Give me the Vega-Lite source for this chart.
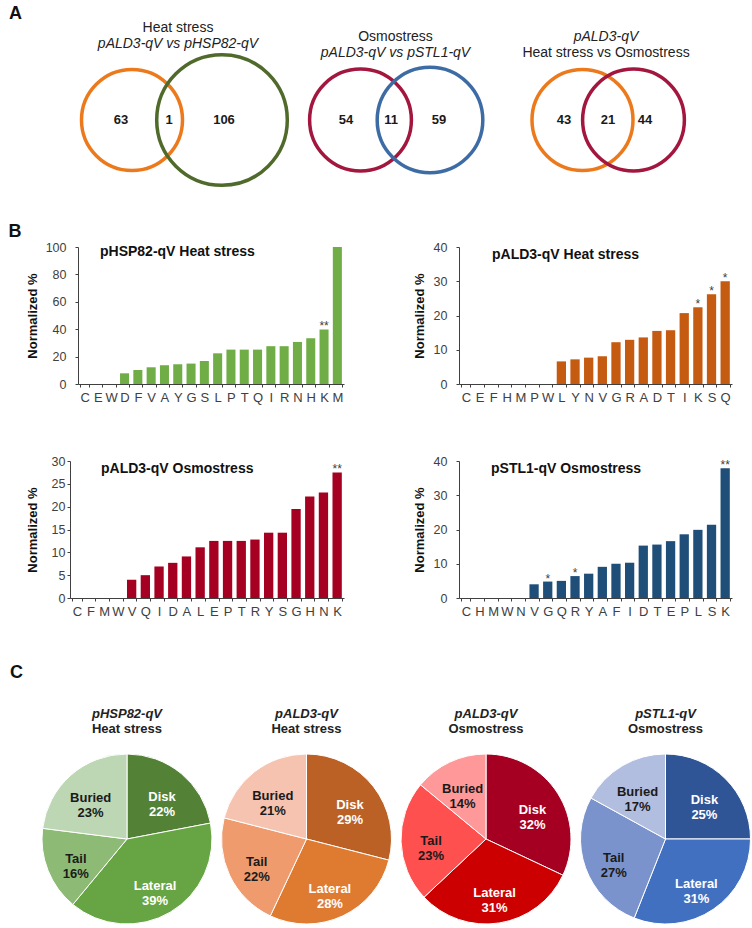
{
  "$schema": "https://vega.github.io/schema/vega-lite/v6.json",
  "padding": {"left": 8, "top": 4, "right": 0, "bottom": 0},
  "config": {
    "view": {"stroke": null},
    "font": "Liberation Sans",
    "axis": {"grid": false, "domainColor": "#404040", "tickColor": "#404040", "labelColor": "#404040", "titleColor": "#111111", "labelFont": "Liberation Sans", "titleFont": "Liberation Sans"}
  },
  "datasets": {
    "venn_sets": [
      {"venn": 1, "set": "pALD3-qV heat", "cx": -46, "total": 64},
      {"venn": 1, "set": "pHSP82-qV heat", "cx": 44, "total": 107},
      {"venn": 2, "set": "pALD3-qV osmo", "cx": -34.5, "total": 65},
      {"venn": 2, "set": "pSTL1-qV osmo", "cx": 35, "total": 70},
      {"venn": 3, "set": "pALD3-qV heat", "cx": -23.5, "total": 64},
      {"venn": 3, "set": "pALD3-qV osmo", "cx": 27.5, "total": 65}
    ],
    "venn_regions": [
      {"venn": 1, "lx": -57, "n": 63},
      {"venn": 1, "lx": -9, "n": 1},
      {"venn": 1, "lx": 46, "n": 106},
      {"venn": 2, "lx": -49, "n": 54},
      {"venn": 2, "lx": -4, "n": 11},
      {"venn": 2, "lx": 44, "n": 59},
      {"venn": 3, "lx": -42, "n": 43},
      {"venn": 3, "lx": 2, "n": 21},
      {"venn": 3, "lx": 39, "n": 44}
    ],
    "bars": [
      {"chart": "c1", "aa": "C", "v": 0, "sig": ""},
      {"chart": "c1", "aa": "E", "v": 0, "sig": ""},
      {"chart": "c1", "aa": "W", "v": 0, "sig": ""},
      {"chart": "c1", "aa": "D", "v": 7.8, "sig": ""},
      {"chart": "c1", "aa": "F", "v": 10.2, "sig": ""},
      {"chart": "c1", "aa": "V", "v": 12.2, "sig": ""},
      {"chart": "c1", "aa": "A", "v": 13.7, "sig": ""},
      {"chart": "c1", "aa": "Y", "v": 14.4, "sig": ""},
      {"chart": "c1", "aa": "G", "v": 14.9, "sig": ""},
      {"chart": "c1", "aa": "S", "v": 16.8, "sig": ""},
      {"chart": "c1", "aa": "L", "v": 22.4, "sig": ""},
      {"chart": "c1", "aa": "P", "v": 25.1, "sig": ""},
      {"chart": "c1", "aa": "T", "v": 25.1, "sig": ""},
      {"chart": "c1", "aa": "Q", "v": 25.1, "sig": ""},
      {"chart": "c1", "aa": "I", "v": 27.6, "sig": ""},
      {"chart": "c1", "aa": "R", "v": 27.6, "sig": ""},
      {"chart": "c1", "aa": "N", "v": 30.7, "sig": ""},
      {"chart": "c1", "aa": "H", "v": 33.4, "sig": ""},
      {"chart": "c1", "aa": "K", "v": 39.8, "sig": "**"},
      {"chart": "c1", "aa": "M", "v": 100, "sig": ""},
      {"chart": "c2", "aa": "C", "v": 0, "sig": ""},
      {"chart": "c2", "aa": "E", "v": 0, "sig": ""},
      {"chart": "c2", "aa": "F", "v": 0, "sig": ""},
      {"chart": "c2", "aa": "H", "v": 0, "sig": ""},
      {"chart": "c2", "aa": "M", "v": 0, "sig": ""},
      {"chart": "c2", "aa": "P", "v": 0, "sig": ""},
      {"chart": "c2", "aa": "W", "v": 0, "sig": ""},
      {"chart": "c2", "aa": "L", "v": 6.6, "sig": ""},
      {"chart": "c2", "aa": "Y", "v": 7.2, "sig": ""},
      {"chart": "c2", "aa": "N", "v": 7.7, "sig": ""},
      {"chart": "c2", "aa": "V", "v": 8.1, "sig": ""},
      {"chart": "c2", "aa": "G", "v": 12.2, "sig": ""},
      {"chart": "c2", "aa": "R", "v": 12.9, "sig": ""},
      {"chart": "c2", "aa": "A", "v": 13.6, "sig": ""},
      {"chart": "c2", "aa": "D", "v": 15.5, "sig": ""},
      {"chart": "c2", "aa": "T", "v": 15.7, "sig": ""},
      {"chart": "c2", "aa": "I", "v": 20.7, "sig": ""},
      {"chart": "c2", "aa": "K", "v": 22.4, "sig": "*"},
      {"chart": "c2", "aa": "S", "v": 26.2, "sig": "*"},
      {"chart": "c2", "aa": "Q", "v": 30, "sig": "*"},
      {"chart": "c3", "aa": "C", "v": 0, "sig": ""},
      {"chart": "c3", "aa": "F", "v": 0, "sig": ""},
      {"chart": "c3", "aa": "M", "v": 0, "sig": ""},
      {"chart": "c3", "aa": "W", "v": 0, "sig": ""},
      {"chart": "c3", "aa": "V", "v": 4.0, "sig": ""},
      {"chart": "c3", "aa": "Q", "v": 5.0, "sig": ""},
      {"chart": "c3", "aa": "I", "v": 6.9, "sig": ""},
      {"chart": "c3", "aa": "D", "v": 7.7, "sig": ""},
      {"chart": "c3", "aa": "A", "v": 9.1, "sig": ""},
      {"chart": "c3", "aa": "L", "v": 11.1, "sig": ""},
      {"chart": "c3", "aa": "E", "v": 12.5, "sig": ""},
      {"chart": "c3", "aa": "P", "v": 12.5, "sig": ""},
      {"chart": "c3", "aa": "T", "v": 12.5, "sig": ""},
      {"chart": "c3", "aa": "R", "v": 12.8, "sig": ""},
      {"chart": "c3", "aa": "Y", "v": 14.3, "sig": ""},
      {"chart": "c3", "aa": "S", "v": 14.3, "sig": ""},
      {"chart": "c3", "aa": "G", "v": 19.5, "sig": ""},
      {"chart": "c3", "aa": "H", "v": 22.2, "sig": ""},
      {"chart": "c3", "aa": "N", "v": 23.1, "sig": ""},
      {"chart": "c3", "aa": "K", "v": 27.5, "sig": "**"},
      {"chart": "c4", "aa": "C", "v": 0, "sig": ""},
      {"chart": "c4", "aa": "H", "v": 0, "sig": ""},
      {"chart": "c4", "aa": "M", "v": 0, "sig": ""},
      {"chart": "c4", "aa": "W", "v": 0, "sig": ""},
      {"chart": "c4", "aa": "N", "v": 0, "sig": ""},
      {"chart": "c4", "aa": "V", "v": 4.0, "sig": ""},
      {"chart": "c4", "aa": "G", "v": 4.8, "sig": "*"},
      {"chart": "c4", "aa": "Q", "v": 5.0, "sig": ""},
      {"chart": "c4", "aa": "R", "v": 6.4, "sig": "*"},
      {"chart": "c4", "aa": "Y", "v": 7.1, "sig": ""},
      {"chart": "c4", "aa": "A", "v": 9.1, "sig": ""},
      {"chart": "c4", "aa": "F", "v": 10.0, "sig": ""},
      {"chart": "c4", "aa": "I", "v": 10.3, "sig": ""},
      {"chart": "c4", "aa": "D", "v": 15.3, "sig": ""},
      {"chart": "c4", "aa": "T", "v": 15.6, "sig": ""},
      {"chart": "c4", "aa": "E", "v": 16.6, "sig": ""},
      {"chart": "c4", "aa": "P", "v": 18.6, "sig": ""},
      {"chart": "c4", "aa": "L", "v": 19.9, "sig": ""},
      {"chart": "c4", "aa": "S", "v": 21.4, "sig": ""},
      {"chart": "c4", "aa": "K", "v": 37.9, "sig": "**"}
    ],
    "pies": [
      {"pie": "p1", "region": "Disk", "pct": 22, "order": 1},
      {"pie": "p1", "region": "Lateral", "pct": 39, "order": 2},
      {"pie": "p1", "region": "Tail", "pct": 16, "order": 3},
      {"pie": "p1", "region": "Buried", "pct": 23, "order": 4},
      {"pie": "p2", "region": "Disk", "pct": 29, "order": 1},
      {"pie": "p2", "region": "Lateral", "pct": 28, "order": 2},
      {"pie": "p2", "region": "Tail", "pct": 22, "order": 3},
      {"pie": "p2", "region": "Buried", "pct": 21, "order": 4},
      {"pie": "p3", "region": "Disk", "pct": 32, "order": 1},
      {"pie": "p3", "region": "Lateral", "pct": 31, "order": 2},
      {"pie": "p3", "region": "Tail", "pct": 23, "order": 3},
      {"pie": "p3", "region": "Buried", "pct": 14, "order": 4},
      {"pie": "p4", "region": "Disk", "pct": 25, "order": 1},
      {"pie": "p4", "region": "Lateral", "pct": 31, "order": 2},
      {"pie": "p4", "region": "Tail", "pct": 27, "order": 3},
      {"pie": "p4", "region": "Buried", "pct": 17, "order": 4}
    ]
  },
  "spacing": 30,
  "vconcat": [
    {
      "title": {"text": "A", "anchor": "start", "fontSize": 18, "fontWeight": "bold", "color": "#111111", "dx": -61, "offset": -2},
      "spacing": 0,
      "bounds": "flush",
      "hconcat": [
        {
          "width": 220, "height": 126,
          "title": {"text": "Heat stress", "subtitle": "pALD3-qV vs pHSP82-qV", "anchor": "middle", "frame": "group", "dx": -2, "fontSize": 14, "fontWeight": "normal", "color": "#222222", "subtitleFontSize": 14, "subtitleFontStyle": "italic", "subtitleColor": "#222222", "subtitlePadding": 2, "offset": -3},
          "layer": [
            {
              "data": {"name": "venn_sets"},
              "transform": [{"filter": "datum.venn === 1"}],
              "mark": {"type": "point", "shape": "circle", "filled": false, "strokeWidth": 3.5, "opacity": 1},
              "encoding": {
                "x": {"field": "cx", "type": "quantitative", "scale": {"domain": [-108, 112], "nice": false, "zero": false}, "axis": null},
                "size": {"field": "total", "type": "quantitative", "scale": {"type": "linear", "domain": [0, 100], "range": [0, 15940]}, "legend": null},
                "color": {"field": "set", "type": "nominal", "scale": {"domain": ["pALD3-qV heat", "pHSP82-qV heat", "pALD3-qV osmo", "pSTL1-qV osmo"], "range": ["#EC7A1C", "#4F6A2A", "#A3173F", "#3D6CA5"]}, "legend": null}
              }
            },
            {
              "data": {"name": "venn_regions"},
              "transform": [{"filter": "datum.venn === 1"}],
              "mark": {"type": "text", "fontSize": 13, "fontWeight": "bold", "color": "#1a1a1a"},
              "encoding": {
                "x": {"field": "lx", "type": "quantitative"},
                "text": {"field": "n", "type": "quantitative"}
              }
            }
          ]
        },
        {
          "width": 211, "height": 126,
          "title": {"text": "Osmostress", "subtitle": "pALD3-qV vs pSTL1-qV", "anchor": "middle", "frame": "group", "dx": 0, "fontSize": 14, "fontWeight": "normal", "color": "#222222", "subtitleFontSize": 14, "subtitleFontStyle": "italic", "subtitleColor": "#222222", "subtitlePadding": 2, "offset": -3},
          "layer": [
            {
              "data": {"name": "venn_sets"},
              "transform": [{"filter": "datum.venn === 2"}],
              "mark": {"type": "point", "shape": "circle", "filled": false, "strokeWidth": 3.5, "opacity": 1},
              "encoding": {
                "x": {"field": "cx", "type": "quantitative", "scale": {"domain": [-105, 106], "nice": false, "zero": false}, "axis": null},
                "size": {"field": "total", "type": "quantitative", "scale": {"type": "linear", "domain": [0, 100], "range": [0, 15940]}, "legend": null},
                "color": {"field": "set", "type": "nominal", "scale": {"domain": ["pALD3-qV heat", "pHSP82-qV heat", "pALD3-qV osmo", "pSTL1-qV osmo"], "range": ["#EC7A1C", "#4F6A2A", "#A3173F", "#3D6CA5"]}, "legend": null}
              }
            },
            {
              "data": {"name": "venn_regions"},
              "transform": [{"filter": "datum.venn === 2"}],
              "mark": {"type": "text", "fontSize": 13, "fontWeight": "bold", "color": "#1a1a1a"},
              "encoding": {
                "x": {"field": "lx", "type": "quantitative"},
                "text": {"field": "n", "type": "quantitative"}
              }
            }
          ]
        },
        {
          "width": 252, "height": 126,
          "title": {"text": "pALD3-qV", "subtitle": "Heat  stress vs Osmostress", "anchor": "middle", "frame": "group", "dx": -21, "fontSize": 14, "fontWeight": "normal", "fontStyle": "italic", "color": "#222222", "subtitleFontSize": 14, "subtitleFontStyle": "normal", "subtitleColor": "#222222", "subtitlePadding": 2, "offset": -3},
          "layer": [
            {
              "data": {"name": "venn_sets"},
              "transform": [{"filter": "datum.venn === 3"}],
              "mark": {"type": "point", "shape": "circle", "filled": false, "strokeWidth": 3.5, "opacity": 1},
              "encoding": {
                "x": {"field": "cx", "type": "quantitative", "scale": {"domain": [-105, 147], "nice": false, "zero": false}, "axis": null},
                "size": {"field": "total", "type": "quantitative", "scale": {"type": "linear", "domain": [0, 100], "range": [0, 15940]}, "legend": null},
                "color": {"field": "set", "type": "nominal", "scale": {"domain": ["pALD3-qV heat", "pHSP82-qV heat", "pALD3-qV osmo", "pSTL1-qV osmo"], "range": ["#EC7A1C", "#4F6A2A", "#A3173F", "#3D6CA5"]}, "legend": null}
              }
            },
            {
              "data": {"name": "venn_regions"},
              "transform": [{"filter": "datum.venn === 3"}],
              "mark": {"type": "text", "fontSize": 13, "fontWeight": "bold", "color": "#1a1a1a"},
              "encoding": {
                "x": {"field": "lx", "type": "quantitative"},
                "text": {"field": "n", "type": "quantitative"}
              }
            }
          ]
        }
      ]
    },
    {
      "spacing": 46,
      "vconcat": [
        {
          "title": {"text": "B", "anchor": "start", "fontSize": 18, "fontWeight": "bold", "color": "#111111", "dx": -17.5, "offset": -3},
          "spacing": 51,
          "vconcat": [
            {
              "spacing": 69,
              "hconcat": [
                {
                  "width": 274, "height": 137,
                  "title": {"text": "pHSP82-qV Heat stress", "anchor": "start", "frame": "group", "fontSize": 14, "fontWeight": "bold", "color": "#111111", "dx": 30, "dy": 21, "offset": 0},
                  "data": {"name": "bars"},
                  "transform": [{"filter": "datum.chart === 'c1'"}],
                  "encoding": {
                    "x": {"field": "aa", "type": "nominal", "sort": null, "title": null, "scale": {"range": [8, 274], "paddingInner": 0.32, "paddingOuter": 0.16}, "axis": {"labelAngle": 0, "tickBand": "extent", "tickSize": 3, "labelFontSize": 13, "labelPadding": 4}},
                    "y": {"field": "v", "type": "quantitative", "scale": {"domain": [0, 100], "nice": false}, "axis": {"offset": -8, "values": [0, 20, 40, 60, 80, 100], "title": "Normalized %", "titleFontSize": 13, "titleFontWeight": "bold", "tickSize": 3, "labelFontSize": 12.5, "labelPadding": 9, "titlePadding": 6}}
                  },
                  "layer": [
                    {"mark": {"type": "bar", "color": "#70AD47"}},
                    {"mark": {"type": "text", "baseline": "alphabetic", "dy": 1, "fontSize": 12, "color": "#404040"}, "encoding": {"text": {"field": "sig"}}}
                  ]
                },
                {
                  "width": 273, "height": 137,
                  "title": {"text": "pALD3-qV Heat stress", "anchor": "start", "frame": "group", "fontSize": 14, "fontWeight": "bold", "color": "#111111", "dx": 33, "dy": 21, "offset": 0},
                  "data": {"name": "bars"},
                  "transform": [{"filter": "datum.chart === 'c2'"}],
                  "encoding": {
                    "x": {"field": "aa", "type": "nominal", "sort": null, "title": null, "scale": {"paddingInner": 0.32, "paddingOuter": 0.16}, "axis": {"labelAngle": 0, "tickBand": "extent", "tickSize": 3, "labelFontSize": 13, "labelPadding": 4}},
                    "y": {"field": "v", "type": "quantitative", "scale": {"domain": [0, 40], "nice": false}, "axis": {"values": [0, 10, 20, 30, 40], "title": "Normalized %", "titleFontSize": 13, "titleFontWeight": "bold", "tickSize": 3, "labelFontSize": 12.5, "labelPadding": 9, "titlePadding": 7}}
                  },
                  "layer": [
                    {"mark": {"type": "bar", "color": "#C55A11"}},
                    {"mark": {"type": "text", "baseline": "alphabetic", "dy": 1, "fontSize": 12, "color": "#404040"}, "encoding": {"text": {"field": "sig"}}}
                  ]
                }
              ]
            },
            {
              "spacing": 69,
              "hconcat": [
                {
                  "width": 274, "height": 137,
                  "title": {"text": "pALD3-qV Osmostress", "anchor": "start", "frame": "group", "fontSize": 14, "fontWeight": "bold", "color": "#111111", "dx": 31, "dy": 21, "offset": 0},
                  "data": {"name": "bars"},
                  "transform": [{"filter": "datum.chart === 'c3'"}],
                  "encoding": {
                    "x": {"field": "aa", "type": "nominal", "sort": null, "title": null, "scale": {"paddingInner": 0.32, "paddingOuter": 0.16}, "axis": {"labelAngle": 0, "tickBand": "extent", "tickSize": 3, "labelFontSize": 13, "labelPadding": 4}},
                    "y": {"field": "v", "type": "quantitative", "scale": {"domain": [0, 30], "nice": false}, "axis": {"values": [0, 5, 10, 15, 20, 25, 30], "title": "Normalized %", "titleFontSize": 13, "titleFontWeight": "bold", "tickSize": 3, "labelFontSize": 12.5, "labelPadding": 2, "titlePadding": 12}}
                  },
                  "layer": [
                    {"mark": {"type": "bar", "color": "#A50021"}},
                    {"mark": {"type": "text", "baseline": "alphabetic", "dy": 1, "fontSize": 12, "color": "#404040"}, "encoding": {"text": {"field": "sig"}}}
                  ]
                },
                {
                  "width": 273, "height": 137,
                  "title": {"text": "pSTL1-qV Osmostress", "anchor": "start", "frame": "group", "fontSize": 14, "fontWeight": "bold", "color": "#111111", "dx": 32, "dy": 21, "offset": 0},
                  "data": {"name": "bars"},
                  "transform": [{"filter": "datum.chart === 'c4'"}],
                  "encoding": {
                    "x": {"field": "aa", "type": "nominal", "sort": null, "title": null, "scale": {"paddingInner": 0.32, "paddingOuter": 0.16}, "axis": {"labelAngle": 0, "tickBand": "extent", "tickSize": 3, "labelFontSize": 13, "labelPadding": 4}},
                    "y": {"field": "v", "type": "quantitative", "scale": {"domain": [0, 40], "nice": false}, "axis": {"values": [0, 10, 20, 30, 40], "title": "Normalized %", "titleFontSize": 13, "titleFontWeight": "bold", "tickSize": 3, "labelFontSize": 12.5, "labelPadding": 9, "titlePadding": 7}}
                  },
                  "layer": [
                    {"mark": {"type": "bar", "color": "#1F4E79"}},
                    {"mark": {"type": "text", "baseline": "alphabetic", "dy": 1, "fontSize": 12, "color": "#404040"}, "encoding": {"text": {"field": "sig"}}}
                  ]
                }
              ]
            }
          ]
        },
        {
          "title": {"text": "C", "anchor": "start", "fontSize": 18, "fontWeight": "bold", "color": "#111111", "dx": -30, "offset": 26},
          "spacing": 65.5,
          "bounds": "flush",
          "resolve": {"scale": {"color": "independent"}},
          "hconcat": [
            {
              "width": 114, "height": 170,
              "title": {"text": "pHSP82-qV", "subtitle": "Heat stress", "anchor": "middle", "frame": "group", "fontSize": 13, "fontWeight": "bold", "fontStyle": "italic", "color": "#222222", "subtitleFontSize": 13, "subtitleFontWeight": "bold", "subtitleColor": "#222222", "subtitlePadding": 2, "offset": 16},
              "data": {"name": "pies"},
              "transform": [{"filter": "datum.pie === 'p1'"}, {"calculate": "datum.region + '\\n' + datum.pct + '%'", "as": "label"}],
              "encoding": {"theta": {"field": "pct", "type": "quantitative", "stack": true}, "order": {"field": "order", "type": "quantitative"}},
              "layer": [
                {"mark": {"type": "arc", "radius": 85, "stroke": "white", "strokeWidth": 1}, "encoding": {"color": {"field": "region", "type": "nominal", "scale": {"domain": ["Disk", "Lateral", "Tail", "Buried"], "range": ["#538135", "#67A444", "#8DBB76", "#BDD6B3"]}, "legend": null}}},
                {"mark": {"type": "text", "radius": 55, "fontSize": 13, "fontWeight": "bold", "lineBreak": "\n", "lineHeight": 15}, "encoding": {"text": {"field": "label"}, "color": {"condition": {"test": "datum.region === 'Disk' || datum.region === 'Lateral'", "value": "white"}, "value": "#1a1a1a"}}}
              ]
            },
            {
              "width": 114, "height": 170,
              "title": {"text": "pALD3-qV", "subtitle": "Heat stress", "anchor": "middle", "frame": "group", "fontSize": 13, "fontWeight": "bold", "fontStyle": "italic", "color": "#222222", "subtitleFontSize": 13, "subtitleFontWeight": "bold", "subtitleColor": "#222222", "subtitlePadding": 2, "offset": 16},
              "data": {"name": "pies"},
              "transform": [{"filter": "datum.pie === 'p2'"}, {"calculate": "datum.region + '\\n' + datum.pct + '%'", "as": "label"}],
              "encoding": {"theta": {"field": "pct", "type": "quantitative", "stack": true}, "order": {"field": "order", "type": "quantitative"}},
              "layer": [
                {"mark": {"type": "arc", "radius": 85, "stroke": "white", "strokeWidth": 1}, "encoding": {"color": {"field": "region", "type": "nominal", "scale": {"domain": ["Disk", "Lateral", "Tail", "Buried"], "range": ["#BB6125", "#DF7A31", "#EF9B6E", "#F5C3AF"]}, "legend": null}}},
                {"mark": {"type": "text", "radius": 55, "fontSize": 13, "fontWeight": "bold", "lineBreak": "\n", "lineHeight": 15}, "encoding": {"text": {"field": "label"}, "color": {"condition": {"test": "datum.region === 'Disk' || datum.region === 'Lateral'", "value": "white"}, "value": "#1a1a1a"}}}
              ]
            },
            {
              "width": 114, "height": 170,
              "title": {"text": "pALD3-qV", "subtitle": "Osmostress", "anchor": "middle", "frame": "group", "fontSize": 13, "fontWeight": "bold", "fontStyle": "italic", "color": "#222222", "subtitleFontSize": 13, "subtitleFontWeight": "bold", "subtitleColor": "#222222", "subtitlePadding": 2, "offset": 16},
              "data": {"name": "pies"},
              "transform": [{"filter": "datum.pie === 'p3'"}, {"calculate": "datum.region + '\\n' + datum.pct + '%'", "as": "label"}],
              "encoding": {"theta": {"field": "pct", "type": "quantitative", "stack": true}, "order": {"field": "order", "type": "quantitative"}},
              "layer": [
                {"mark": {"type": "arc", "radius": 85, "stroke": "white", "strokeWidth": 1}, "encoding": {"color": {"field": "region", "type": "nominal", "scale": {"domain": ["Disk", "Lateral", "Tail", "Buried"], "range": ["#A50021", "#CC0000", "#FF5050", "#FF9999"]}, "legend": null}}},
                {"mark": {"type": "text", "radius": 55, "fontSize": 13, "fontWeight": "bold", "lineBreak": "\n", "lineHeight": 15}, "encoding": {"text": {"field": "label"}, "color": {"condition": {"test": "datum.region === 'Disk' || datum.region === 'Lateral'", "value": "white"}, "value": "#1a1a1a"}}}
              ]
            },
            {
              "width": 114, "height": 170,
              "title": {"text": "pSTL1-qV", "subtitle": "Osmostress", "anchor": "middle", "frame": "group", "fontSize": 13, "fontWeight": "bold", "fontStyle": "italic", "color": "#222222", "subtitleFontSize": 13, "subtitleFontWeight": "bold", "subtitleColor": "#222222", "subtitlePadding": 2, "offset": 16},
              "data": {"name": "pies"},
              "transform": [{"filter": "datum.pie === 'p4'"}, {"calculate": "datum.region + '\\n' + datum.pct + '%'", "as": "label"}],
              "encoding": {"theta": {"field": "pct", "type": "quantitative", "stack": true}, "order": {"field": "order", "type": "quantitative"}},
              "layer": [
                {"mark": {"type": "arc", "radius": 85, "stroke": "white", "strokeWidth": 1}, "encoding": {"color": {"field": "region", "type": "nominal", "scale": {"domain": ["Disk", "Lateral", "Tail", "Buried"], "range": ["#2F5597", "#4170C0", "#7B93CC", "#B1BEE0"]}, "legend": null}}},
                {"mark": {"type": "text", "radius": 55, "fontSize": 13, "fontWeight": "bold", "lineBreak": "\n", "lineHeight": 15}, "encoding": {"text": {"field": "label"}, "color": {"condition": {"test": "datum.region === 'Disk' || datum.region === 'Lateral'", "value": "white"}, "value": "#1a1a1a"}}}
              ]
            }
          ]
        }
      ]
    }
  ]
}
